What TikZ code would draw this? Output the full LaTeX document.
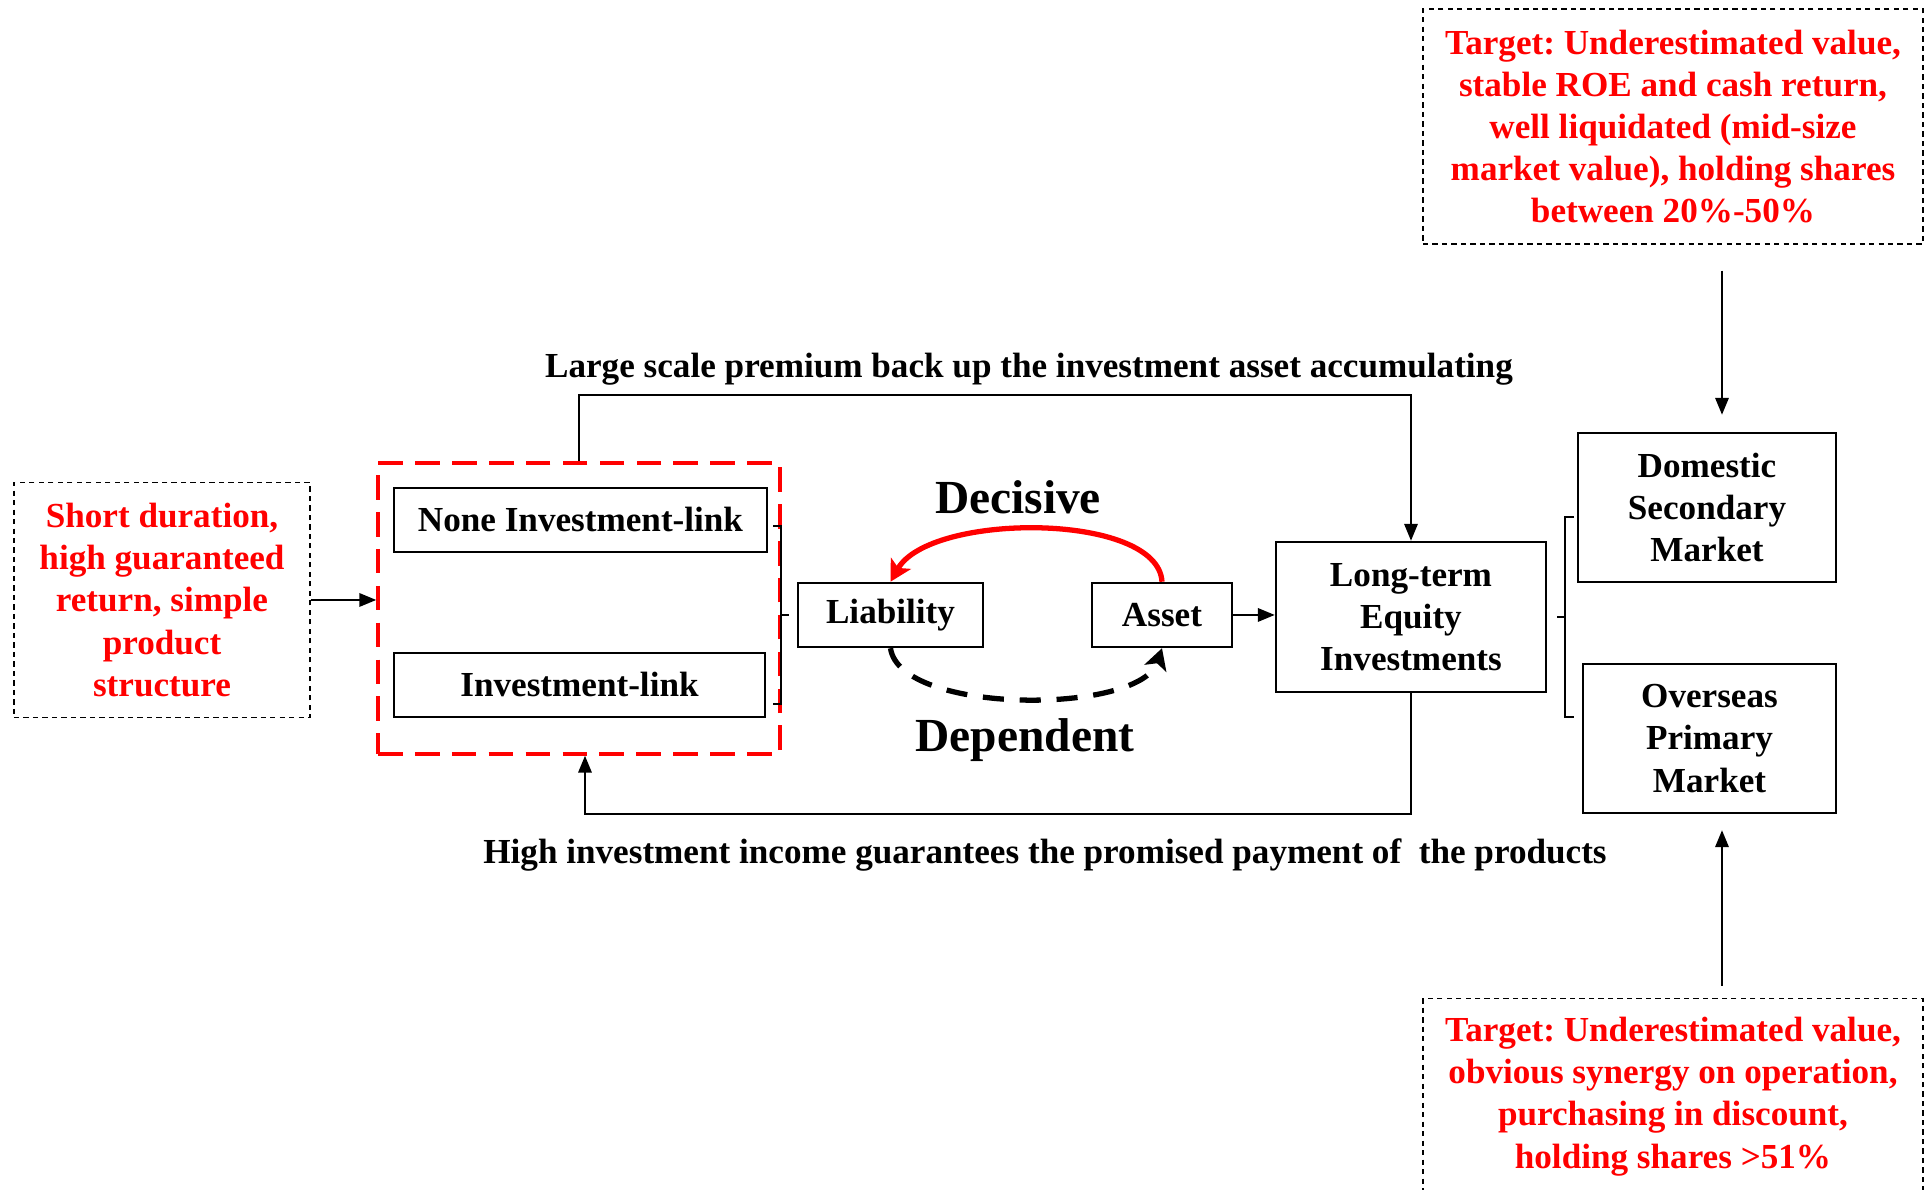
\documentclass[tikz,border=0pt]{standalone}
\usepackage{fontspec}
\setmainfont{Liberation Serif}
\usetikzlibrary{arrows.meta}
\definecolor{ink}{HTML}{000000}
\definecolor{hot}{HTML}{FF0000}
\newcommand{\bodyfont}{\fontsize{10}{12}\selectfont\bfseries}
\newcommand{\bigfont}{\fontsize{13.5}{15}\selectfont\bfseries}
\frenchspacing

\begin{document}
\begin{tikzpicture}[
  text=ink,
  arrow/.style={-{Triangle[length=4.8pt,width=3.8pt]},draw=ink,line width=.6pt},
  box/.style={draw=ink,line width=.7pt,inner sep=0pt,align=center,font=\bodyfont},
  note/.style={draw=ink,line width=.35pt,dash pattern=on 1.5pt off 1.2pt,
    inner sep=0pt,align=center,text=hot,font=\bodyfont},
  label/.style={font=\bodyfont,align=center}
]
  \useasboundingbox (0,0) rectangle (19.27,11.90);

  % left side: products
  \node[note,minimum width=2.96cm,minimum height=2.35cm] (short) at (1.62,5.90)
    {Short duration,\\high guaranteed\\return, simple\\product\\structure};
  \node[draw=hot,line width=1pt,dash pattern=on 7pt off 3.5pt,
    minimum width=4.02cm,minimum height=2.91cm] (grp) at (5.79,5.815) {};
  \node[box,minimum width=3.73cm,minimum height=.64cm] (nonlink) at (5.805,6.70)
    {None Investment-link};
  \node[box,minimum width=3.71cm,minimum height=.64cm] (invlink) at (5.795,5.05)
    {Investment-link};
  \draw[line width=.5pt] (7.73,6.64) -- (7.81,6.64) -- (7.81,4.86) -- (7.73,4.86);
  \draw[line width=.5pt] (7.81,5.75) -- (7.89,5.75);

  % middle: liability and asset
  \node[box,minimum width=1.85cm,minimum height=.64cm] (liab) at (8.905,5.75) {Liability};
  \node[box,minimum width=1.40cm,minimum height=.64cm] (asset) at (11.62,5.75) {Asset};
  \node[font=\bigfont] (dec) at (10.18,6.93) {Decisive};
  \node[font=\bigfont] (dep) at (10.25,4.50) {Dependent};
  \draw[hot,line width=1.5pt,-{Stealth[length=6pt,width=6.5pt,inset=1.5pt]}]
    (asset.north) .. controls (11.58,6.78) and (9.3,6.78) .. (liab.north);
  \draw[line width=1.5pt,dash pattern=on 6pt off 4.5pt,
    -{Stealth[length=6pt,width=6.5pt,inset=1.5pt]}]
    (liab.south) .. controls (9.0,4.75) and (11.4,4.75) .. (asset.south);

  % right side: equity investments and markets
  \node[box,minimum width=2.70cm,minimum height=1.50cm] (ltei) at (14.11,5.73)
    {Long-term\\Equity\\Investments};
  \node[box,minimum width=2.58cm,minimum height=1.49cm] (domsec) at (17.07,6.825)
    {Domestic\\Secondary\\Market};
  \node[box,minimum width=2.53cm,minimum height=1.49cm] (ovsprim) at (17.095,4.515)
    {Overseas\\Primary\\Market};
  \draw[line width=.5pt] (15.74,6.73) -- (15.65,6.73) -- (15.65,4.73) -- (15.74,4.73);
  \draw[line width=.5pt] (15.65,5.73) -- (15.57,5.73);

  \node[note,minimum width=5.00cm,minimum height=2.35cm] (tgtsec) at (16.73,10.635)
    {Target: Underestimated value,\\stable ROE and cash return,\\well liquidated (mid-size\\
     market value), holding shares\\between 20\%-50\%};
  \node[note,minimum width=5.00cm,minimum height=1.96cm,anchor=north] (tgtprim)
    at (16.73,1.92)
    {Target: Underestimated value,\\obvious synergy on operation,\\purchasing in discount,\\
     holding shares >51\%};

  % labels of the loop
  \node[label] (toplbl) at (10.29,8.21)
    {Large scale premium back up the investment asset accumulating};
  \node[label] (botlbl) at (10.45,3.35)
    {High investment income guarantees the promised payment of~ the products};

  % connectors
  \coordinate (ax) at (17.22,0);
  \draw[arrow] (short.east) -- (short.east -| grp.west);
  \draw[arrow] (asset.east) -- (asset.east -| ltei.west);
  \draw[arrow] (grp.north) -- ++(0,.66) -| (ltei.north);
  \draw[arrow] (ltei.south) -- ++(0,-1.21) -| ([xshift=.06cm]grp.south);
  \draw[arrow] ([yshift=-.26cm]tgtsec.south -| ax) -- ([yshift=.17cm]domsec.north -| ax);
  \draw[arrow] ([yshift=.12cm]tgtprim.north -| ax) -- ([yshift=-.16cm]ovsprim.south -| ax);
\end{tikzpicture}
\end{document}
